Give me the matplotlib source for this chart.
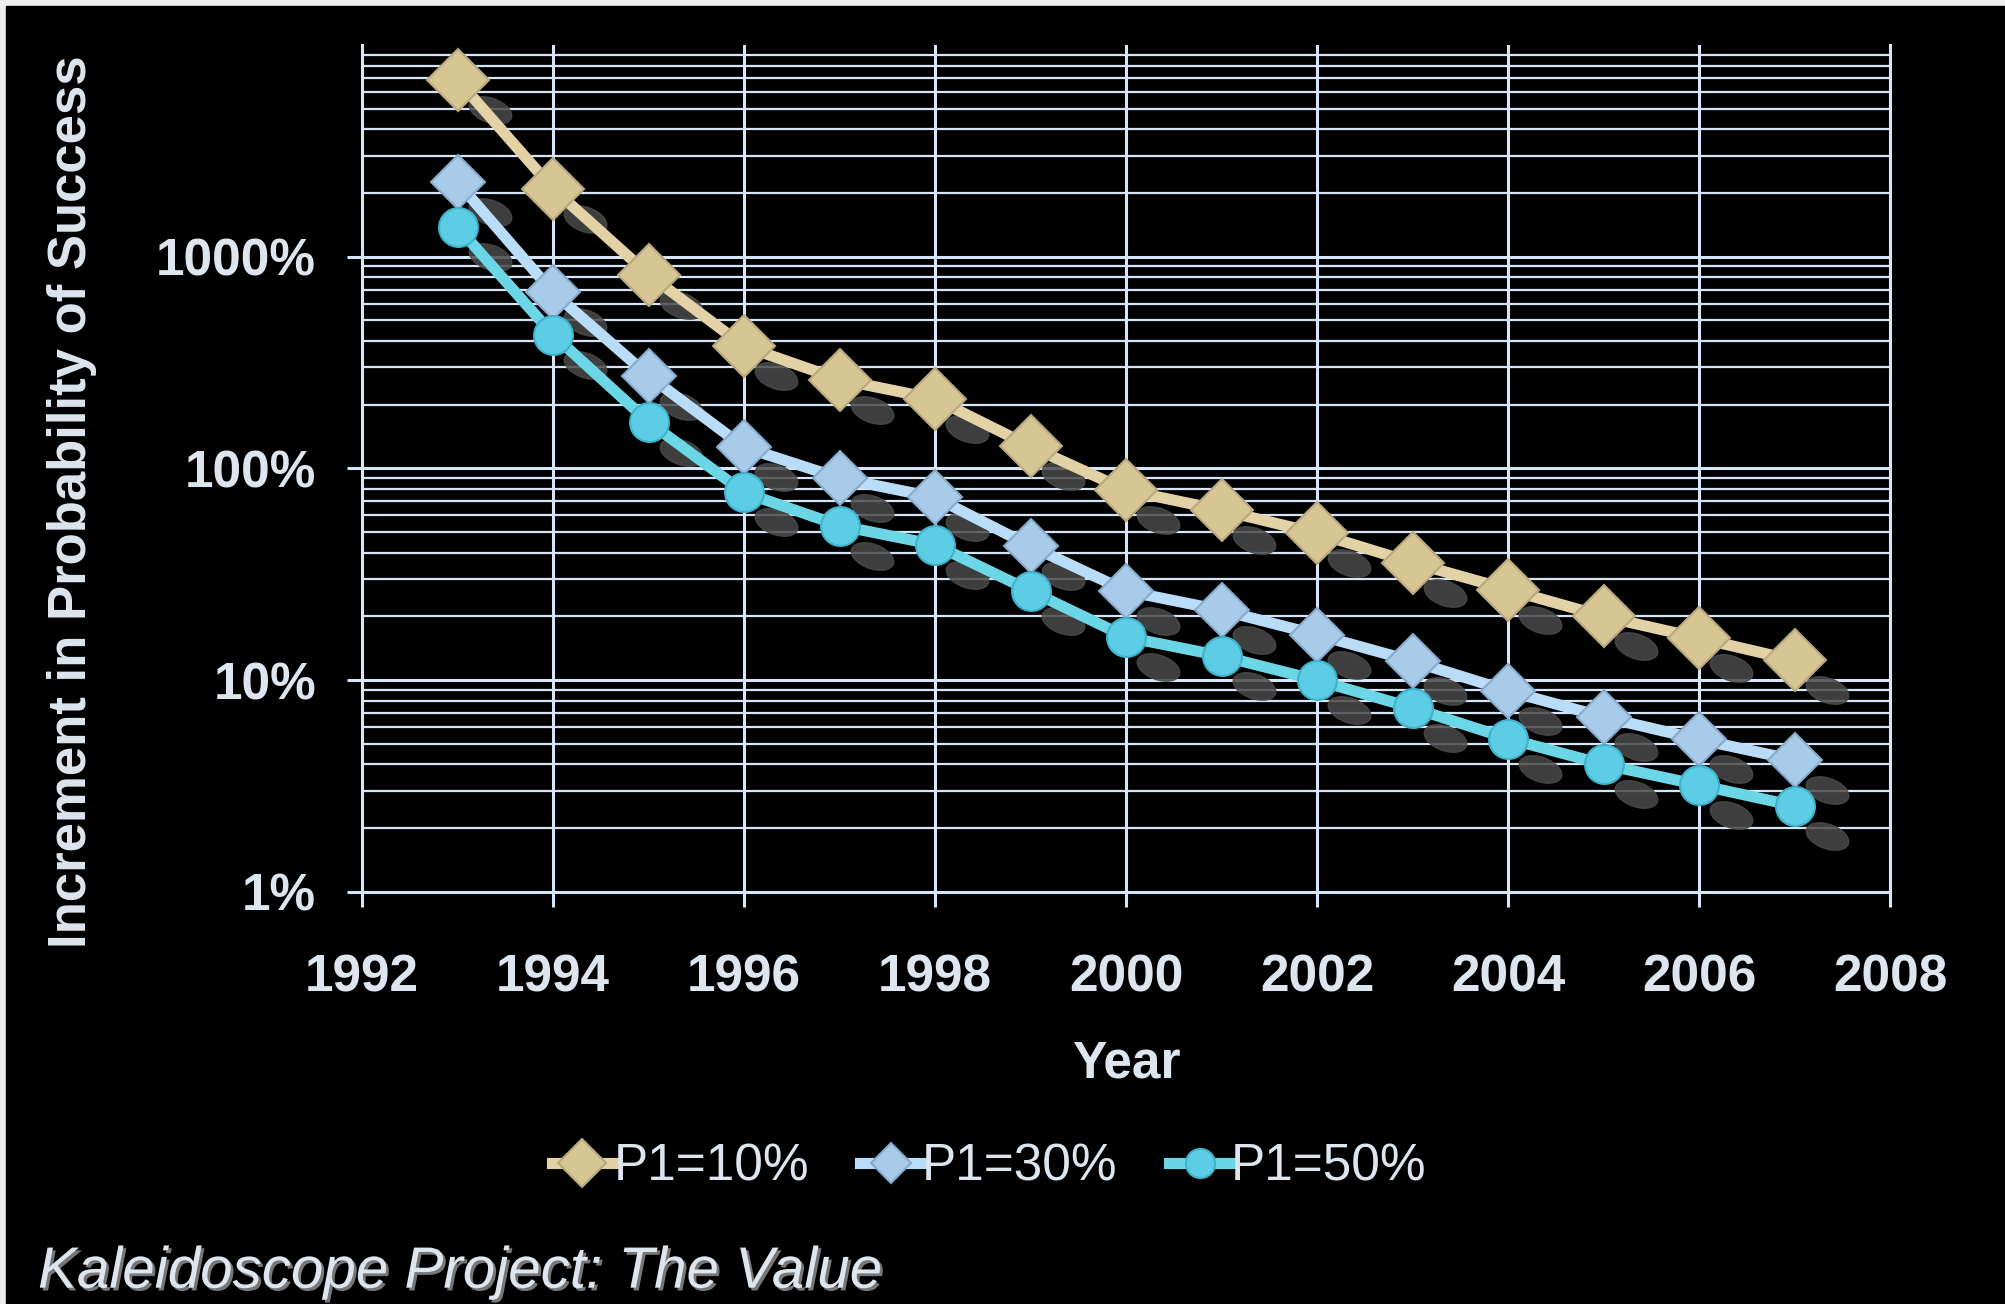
import matplotlib
matplotlib.use('Agg')
import matplotlib.pyplot as plt
import matplotlib.patheffects as pe
from matplotlib.markers import MarkerStyle
from matplotlib.patches import Rectangle
from matplotlib.ticker import FixedLocator, FuncFormatter, NullFormatter
from matplotlib.transforms import Affine2D, offset_copy

# data (percent)
years = list(range(1993, 2008))
p1_10 = [6840, 2095, 824, 378, 263, 213, 127, 79, 63.5, 49.4, 35.9, 26.8, 20.0, 15.8, 12.4]
p1_30 = [2245, 678, 274, 126, 90, 73, 43, 26.4, 21.4, 16.4, 12.3, 8.9, 6.7, 5.25, 4.2]
p1_50 = [1380, 428, 166, 77, 53.7, 43.6, 26.4, 16.0, 13.0, 10.0, 7.4, 5.3, 4.0, 3.2, 2.55]
series_labels = ['P1=10%', 'P1=30%', 'P1=50%']
x_ticks = list(range(1992, 2009, 2))
y_ticks = [1, 10, 100, 1000]

plt.rcParams['font.family'] = ['Liberation Sans', 'DejaVu Sans']

txt = '#dde6ee'
gridc = '#d6e6f8'

fig = plt.figure(figsize=(20.06, 13.04), dpi=100, facecolor='#eeeeee')
fig.patches.append(Rectangle((6 / 2006, 0), 1, 1 - 6 / 1304, transform=fig.transFigure,
                             color='black', zorder=-10))

ax = fig.add_axes([0.1805, 0.316, 0.7617, 0.6495])
ax.set_facecolor('black')
ax.set_yscale('log')
ax.set_ylim(1, 10000)
ax.set_xlim(1992, 2008)

ax.yaxis.set_major_locator(FixedLocator(y_ticks))
ax.yaxis.set_major_formatter(FuncFormatter(lambda v, p: f'{v:g}%'))
ax.yaxis.set_minor_locator(FixedLocator([m * 10 ** k for k in range(4) for m in range(2, 10)]))
ax.yaxis.set_minor_formatter(NullFormatter())
ax.xaxis.set_major_locator(FixedLocator(x_ticks))

ax.grid(which='major', color=gridc, lw=2.2, zorder=0)
ax.grid(which='minor', axis='y', color=gridc, lw=1.6, zorder=0)
ax.set_axisbelow(True)
for s in ['left', 'bottom', 'right']:
    ax.spines[s].set_color(gridc)
    ax.spines[s].set_linewidth(2.2)
ax.spines['top'].set_visible(False)

ax.tick_params(which='major', direction='out', length=11, width=2.2, color=gridc,
               labelsize=37, labelcolor=txt)
ax.tick_params(axis='x', pad=33)
ax.tick_params(axis='y', pad=22)
ax.tick_params(which='minor', length=0)
for lab in ax.get_xticklabels() + ax.get_yticklabels():
    lab.set_fontweight('bold')

ax.set_xlabel('Year', fontsize=37, fontweight='bold', color=txt, labelpad=27)
fig.text(0.036, 0.615, 'Increment in Probability of Success', rotation=90,
         fontsize=38, fontweight='bold', color=txt, ha='center', va='center')

styles = [
    ('#e3d2a6', 'D', 32, '#d8c594', '#b9a97f'),
    ('#b9ddf9', 'D', 27, '#a9cbea', '#88aacb'),
    ('#6ad6e6', 'o', 28, '#5ccde5', '#3fb3cb'),
]
shadow = MarkerStyle('o', transform=Affine2D().scale(1.0, 0.55).rotate_deg(-20))
shadow_tr = offset_copy(ax.transData, fig=fig, x=32, y=-30, units='dots')

for vals, lab, (lc, mk, ms, fc, ec) in zip([p1_10, p1_30, p1_50], series_labels, styles):
    ax.plot(years, vals, ls='none', marker=shadow, ms=32, color='#4a4a4a',
            alpha=0.85, transform=shadow_tr, zorder=2)
    ax.plot(years, vals, color=lc, lw=8, marker=mk, ms=ms, mfc=fc, mec=ec, mew=1.5,
            label=lab, zorder=4)

fig.legend(loc='center', bbox_to_anchor=(0.493, 0.105), ncol=3, frameon=False,
           fontsize=37, handlelength=1.2, handletextpad=0.0, columnspacing=1.0,
           labelcolor=txt, markerscale=0.75)

fig.text(38 / 2006, 0.024, 'Kaleidoscope Project: The Value', style='italic',
         fontsize=42, color=txt, ha='left', va='center',
         path_effects=[pe.withSimplePatchShadow(offset=(2, -2), shadow_rgbFace='#777777', alpha=1)])

fig.savefig('out.png', dpi=100, facecolor=fig.get_facecolor())
